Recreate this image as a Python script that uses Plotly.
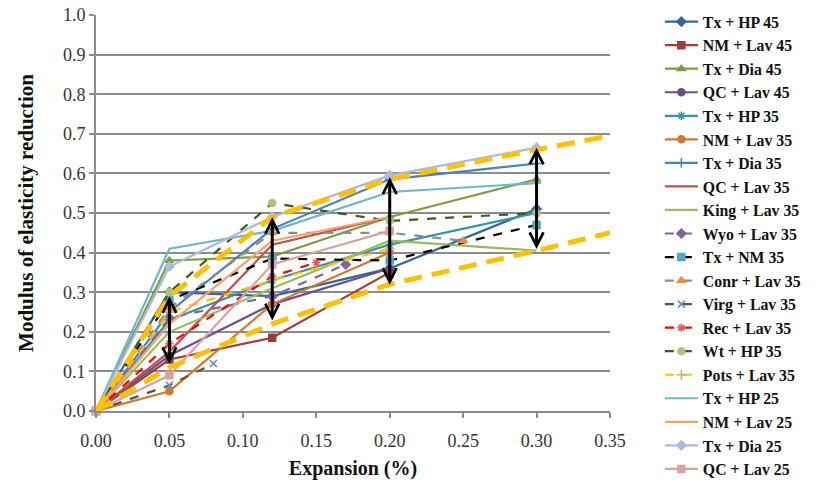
import plotly.graph_objects as go

# ---- data ----
names = ["Tx + HP 45", "NM + Lav 45", "Tx + Dia 45", "QC + Lav 45", "Tx + HP 35",
         "NM + Lav 35", "Tx + Dia 35", "QC + Lav 35", "King + Lav 35", "Wyo + Lav 35",
         "Tx + NM 35", "Conr + Lav 35", "Virg + Lav 35", "Rec + Lav 35", "Wt + HP 35",
         "Pots + Lav 35", "Tx + HP 25", "NM + Lav 25", "Tx + Dia 25", "QC + Lav 25"]

x_std = [0.0, 0.05, 0.12, 0.20, 0.30]
xs = {
    "Tx + HP 45": x_std, "NM + Lav 45": x_std[:4], "Tx + Dia 45": x_std, "QC + Lav 45": x_std[:4],
    "Tx + HP 35": x_std, "NM + Lav 35": x_std[:4], "Tx + Dia 35": x_std, "QC + Lav 35": x_std[:4],
    "King + Lav 35": x_std, "Wyo + Lav 35": [0.0, 0.05, 0.12, 0.17],
    "Tx + NM 35": x_std, "Conr + Lav 35": [0.0, 0.05, 0.12, 0.20, 0.25],
    "Virg + Lav 35": [0.0, 0.05, 0.08], "Rec + Lav 35": [0.0, 0.05, 0.12, 0.15],
    "Wt + HP 35": x_std, "Pots + Lav 35": x_std[:4], "Tx + HP 25": [0.0, 0.05, 0.12, 0.20, 0.303],
    "NM + Lav 25": x_std[:4], "Tx + Dia 25": x_std, "QC + Lav 25": x_std[:4],
}
ys = {
    "Tx + HP 45": [0.0, 0.30, 0.29, 0.36, 0.51],
    "NM + Lav 45": [0.0, 0.13, 0.185, 0.35],
    "Tx + Dia 45": [0.0, 0.38, 0.39, 0.49, 0.585],
    "QC + Lav 45": [0.0, 0.14, 0.27, 0.36],
    "Tx + HP 35": [0.0, 0.23, 0.33, 0.42, 0.50],
    "NM + Lav 35": [0.0, 0.05, 0.27, 0.40],
    "Tx + Dia 35": [0.0, 0.25, 0.46, 0.585, 0.625],
    "QC + Lav 35": [0.0, 0.15, 0.42, 0.49],
    "King + Lav 35": [0.0, 0.20, 0.31, 0.43, 0.405],
    "Wyo + Lav 35": [0.0, 0.235, 0.29, 0.37],
    "Tx + NM 35": [0.0, 0.28, 0.385, 0.38, 0.47],
    "Conr + Lav 35": [0.0, 0.26, 0.45, 0.45, 0.43],
    "Virg + Lav 35": [0.0, 0.065, 0.12],
    "Rec + Lav 35": [0.0, 0.17, 0.34, 0.375],
    "Wt + HP 35": [0.0, 0.30, 0.525, 0.48, 0.50],
    "Pots + Lav 35": [0.0, 0.25, 0.33, 0.41],
    "Tx + HP 25": [0.0, 0.41, 0.455, 0.553, 0.576],
    "NM + Lav 25": [0.0, 0.22, 0.43, 0.49],
    "Tx + Dia 25": [0.0, 0.365, 0.49, 0.595, 0.665],
    "QC + Lav 25": [0.0, 0.09, 0.37, 0.455],
}

# envelope (upper / lower bound) curves
env_x = [0.0, 0.05, 0.12, 0.20, 0.30, 0.35]
env_upper = [0.0, 0.29, 0.49, 0.585, 0.66, 0.695]
env_lower = [0.0, 0.11, 0.22, 0.32, 0.405, 0.45]
# double arrows: x, top, bottom
arrow_x = [0.05, 0.12, 0.20, 0.30]
arrow_top = [0.29, 0.49, 0.59, 0.665]
arrow_bot = [0.115, 0.225, 0.315, 0.405]

x_ticks = [0.0, 0.05, 0.10, 0.15, 0.20, 0.25, 0.30, 0.35]
y_ticks = [0.0, 0.1, 0.2, 0.3, 0.4, 0.5, 0.6, 0.7, 0.8, 0.9, 1.0]

# ---- styles ----
styles = {
    "Tx + HP 45": dict(c="#34659c", m="diamond", mc=None, d="solid"),
    "NM + Lav 45": dict(c="#a33b38", m="square", mc=None, d="solid"),
    "Tx + Dia 45": dict(c="#7d9d3d", m="triangle-up", mc=None, d="solid"),
    "QC + Lav 45": dict(c="#67508b", m="circle", mc=None, d="solid"),
    "Tx + HP 35": dict(c="#3592aa", m="asterisk-open", mc=None, d="solid"),
    "NM + Lav 35": dict(c="#d3782e", m="circle", mc=None, d="solid"),
    "Tx + Dia 35": dict(c="#4a7fc0", m="cross-thin-open", mc=None, d="solid"),
    "QC + Lav 35": dict(c="#c0504d", m=None, mc=None, d="solid"),
    "King + Lav 35": dict(c="#9bbb59", m=None, mc=None, d="solid"),
    "Wyo + Lav 35": dict(c="#8064a2", m="diamond", mc=None, d="dash"),
    "Tx + NM 35": dict(c="#000000", m="square", mc="#4bacc6", d="dash"),
    "Conr + Lav 35": dict(c="#8c8c8c", m="triangle-up", mc="#f08b3a", d="dash"),
    "Virg + Lav 35": dict(c="#4f5a35", m="x-thin-open", mc="#5b8ed0", d="dash"),
    "Rec + Lav 35": dict(c="#ff0000", m="asterisk-open", mc="#ff5050", d="dash"),
    "Wt + HP 35": dict(c="#3f5a1f", m="circle", mc="#a6c77d", d="dash"),
    "Pots + Lav 35": dict(c="#ffc000", m="cross-thin-open", mc="#c9b070", d="dash"),
    "Tx + HP 25": dict(c="#6fb5d0", m=None, mc=None, d="solid"),
    "NM + Lav 25": dict(c="#f7a26b", m=None, mc=None, d="solid"),
    "Tx + Dia 25": dict(c="#a8bbdf", m="diamond", mc=None, d="solid"),
    "QC + Lav 25": dict(c="#d9a3a3", m="square", mc=None, d="solid"),
}

fig = go.Figure()
for i, n in enumerate(names):
    s = styles[n]
    mode = "lines+markers" if s["m"] else "lines"
    mc = s["mc"] or s["c"]
    marker = dict(symbol=s["m"], size=7, color=mc, line=dict(color=mc, width=1.5)) if s["m"] else None
    fig.add_trace(go.Scatter(
        x=xs[n], y=ys[n], name=f"<b>{n}</b>", mode=mode,
        line=dict(color=s["c"], width=2.2, dash=s["d"]),
        marker=marker, cliponaxis=False,
    ))

for yv in (env_upper, env_lower):
    fig.add_trace(go.Scatter(x=env_x, y=yv, mode="lines", showlegend=False,
                             line=dict(color="#ffc000", width=5, dash="18px,10px"),
                             hoverinfo="skip"))

for xa, yt, yb in zip(arrow_x, arrow_top, arrow_bot):
    fig.add_annotation(x=xa, y=yt, ax=xa, ay=yb, xref="x", yref="y", axref="x", ayref="y",
                       text="", showarrow=True, arrowhead=5, startarrowhead=5,
                       arrowside="end+start", arrowwidth=3, arrowsize=0.9,
                       startarrowsize=0.9, arrowcolor="#000000")

axis_common = dict(showline=True, linecolor="#8c8c8c", linewidth=2, ticks="outside",
                   tickcolor="#8c8c8c", ticklen=5, tickwidth=2,
                   tickfont=dict(family="Liberation Serif", size=18, color="#333333"),
                   zeroline=False, ticklabeloverflow="allow")

fig.update_xaxes(range=[0, 0.35], tickvals=x_ticks, ticktext=[f"{v:.2f}" for v in x_ticks],
                 showgrid=False, ticklabelstandoff=7,
                 title=dict(text="<b>Expansion (%)</b>",
                            font=dict(family="Liberation Serif", size=20, color="#111111"),
                            standoff=11),
                 **axis_common)
fig.update_yaxes(range=[0, 1.0], tickvals=y_ticks, ticktext=[f"{v:.1f}" for v in y_ticks],
                 showgrid=True, gridcolor="#8c8c8c", gridwidth=2,
                 title=dict(text="<b>Modulus of elasticity reduction</b>",
                            font=dict(family="Liberation Serif", size=21, color="#111111"),
                            standoff=24),
                 **axis_common)

fig.update_layout(
    width=816, height=486,
    margin=dict(l=96, r=206, t=15, b=75, autoexpand=False),
    paper_bgcolor="white", plot_bgcolor="white",
    legend=dict(x=1.097, y=0.990, xanchor="left", yanchor="top", yref="container",
                maxheight=560,
                font=dict(family="Liberation Serif", size=15.8, color="#111111"),
                tracegroupgap=0, itemwidth=33, bgcolor="rgba(0,0,0,0)"),
    showlegend=True,
)

# remove the browser's default 8px body margin so the figure fills the window exactly
fig.write_html("out.html", config={"displayModeBar": False},
               post_script="document.body.style.margin='0px';")
